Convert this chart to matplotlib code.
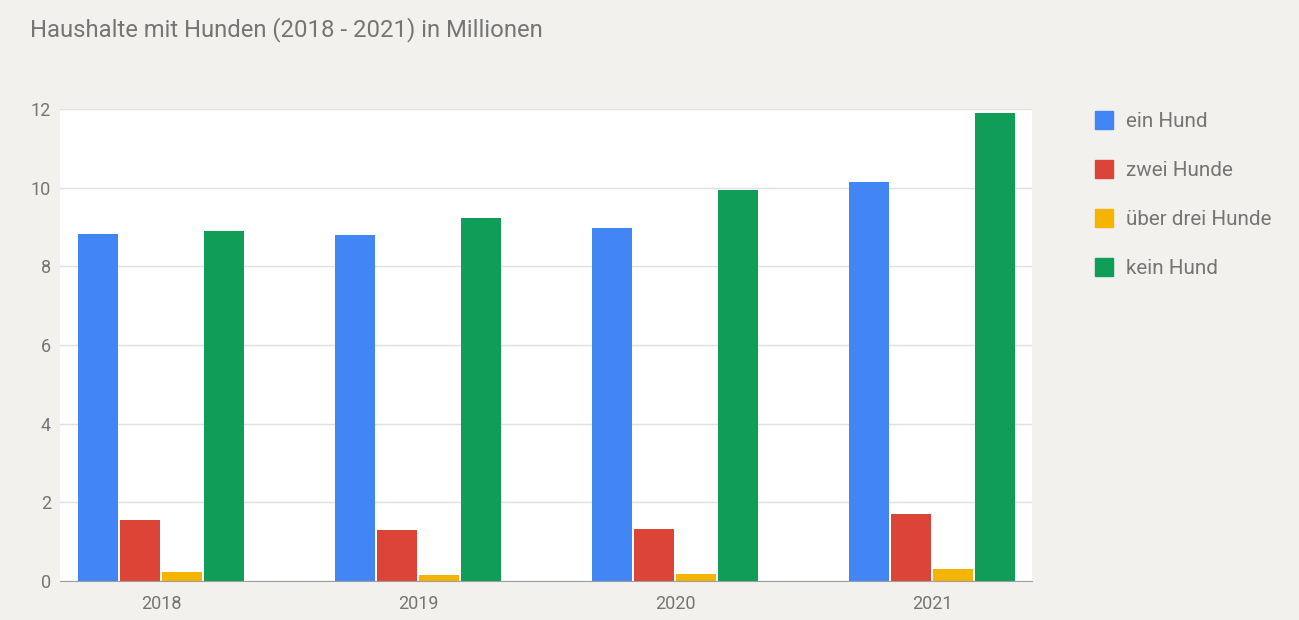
import matplotlib.pyplot as plt
import numpy as np
from matplotlib.lines import Line2D

plt.rcParams['font.family'] = ['Roboto', 'DejaVu Sans']

# Daten (Millionen Haushalte)
jahre = ["2018", "2019", "2020", "2021"]
ein_hund = [8.82, 8.80, 8.97, 10.15]
zwei_hunde = [1.54, 1.29, 1.31, 1.70]
ueber_drei = [0.23, 0.14, 0.18, 0.31]
kein_hund = [8.90, 9.23, 9.94, 11.90]

serien = ["ein Hund", "zwei Hunde", "über drei Hunde", "kein Hund"]
farben = ["#4285f4", "#db4437", "#f4b400", "#0f9d58"]
werte = [ein_hund, zwei_hunde, ueber_drei, kein_hund]

bg = "#f2f1ee"
txt = "#757575"

fig = plt.figure(figsize=(12.99, 6.2), dpi=100, facecolor=bg)
ax = fig.add_axes([60 / 1299, 39 / 620, 972 / 1299, 472 / 620])
ax.set_facecolor("white")

x = np.arange(len(jahre))
slot = 42 / 257
breite = 40 / 257
for i, (name, farbe, w) in enumerate(zip(serien, farben, werte)):
    ax.bar(x + (i - 1.5) * slot, w, breite, color=farbe, label=name, zorder=3)

ax.set_xlim(-101 / 257, 3 + 100 / 257)
ax.set_ylim(0, 12)
ax.set_yticks(range(0, 13, 2))
ax.set_xticks(x)
ax.set_xticklabels(jahre)
ax.grid(axis="y", color="#e0e0e0", linewidth=1, zorder=0)
for s in ["top", "right", "left"]:
    ax.spines[s].set_visible(False)
ax.spines["bottom"].set_color("#9e9e9e")
ax.spines["bottom"].set_zorder(4)
ax.tick_params(length=0, colors=txt, labelsize=13)
ax.tick_params(axis="y", pad=6.5)
ax.tick_params(axis="x", pad=10)

# Titel
fig.text(30 / 1299, 1 - 30 / 620, "Haushalte mit Hunden (2018 - 2021) in Millionen",
         fontsize=17.2, color=txt, va="center", ha="left")

# Legende
handles = [Line2D([], [], marker="s", linestyle="none", markersize=13,
                  markerfacecolor=f, markeredgecolor=f) for f in farben]
leg = fig.legend(handles, serien, loc="upper left",
                 bbox_to_anchor=(1085 / 1299, 1 - 104 / 620),
                 frameon=False, fontsize=14.9, labelspacing=1.45,
                 handlelength=1.0, handletextpad=0.6, borderaxespad=0)
for t in leg.get_texts():
    t.set_color(txt)

fig.savefig("out.png", dpi=100, facecolor=bg)
